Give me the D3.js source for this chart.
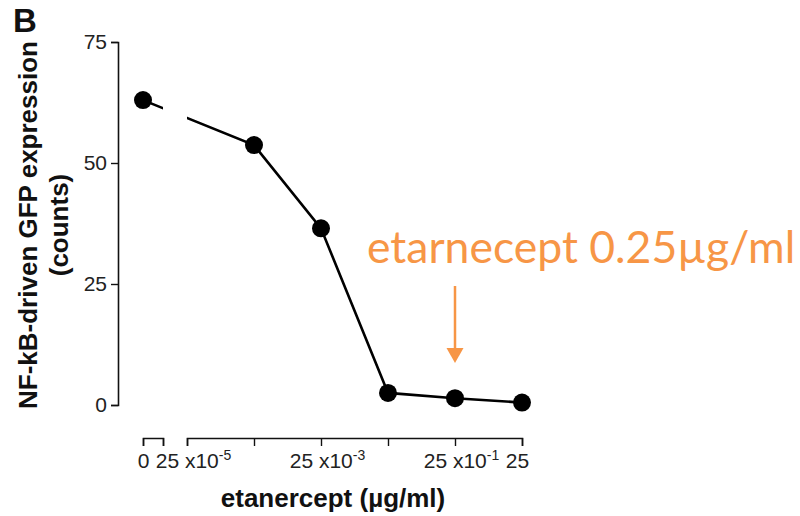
<!DOCTYPE html>
<html>
<head>
<meta charset="utf-8">
<script src="https://cdn.jsdelivr.net/npm/d3@7"></script>
<style>
  body { margin: 0; background: #fff; }
  svg { display: block; font-family: "Liberation Sans", Arial, sans-serif; }
</style>
</head>
<body>
<svg id="chart" width="800" height="516"></svg>
<script>
// data
var doses = [0, 25e-4, 25e-3, 25e-2, 25e-1, 25];   // ug/ml, 0 = control
var counts = [63, 53.7, 36.5, 2.5, 1.4, 0.5];
var yTicks = [0, 25, 50, 75];
var logTicks = [25e-5, 25e-4, 25e-3, 25e-2, 25e-1, 25];
var logLabels = [['25 x10', '-5'], null, ['25 x10', '-3'], null, ['25 x10', '-1'], ['25', '']];
var noteText = 'etarnecept 0.25\u00b5g/ml';
var noteDose = 25e-1;

var svg = d3.select('#chart');
var orange = '#f79646';

// scales
var y = d3.scaleLinear().domain([0, 75]).range([405, 42]);
var xLog = d3.scaleLog().domain([25e-5, 25]).range([187, 522]);
var xZero = d3.scaleLinear().domain([0, 1]).range([143, 163]);
function xPos(d) { return d === 0 ? xZero(0) : xLog(d); }

// y axis
var yAxis = svg.append('g').attr('transform', 'translate(118,0)')
    .call(d3.axisLeft(y).tickValues(yTicks).tickSize(7).tickPadding(4));
yAxis.select('.domain').attr('stroke', '#111').attr('stroke-width', 1.6);
yAxis.selectAll('.tick line').attr('stroke', '#111').attr('stroke-width', 1.4);
yAxis.selectAll('text').attr('font-size', 21).attr('fill', '#222').attr('font-family', null);

// x axis, broken in two pieces
var xAxisY = 438;
var xa0 = svg.append('g').attr('transform', 'translate(0,' + xAxisY + ')')
    .call(d3.axisBottom(xZero).tickValues([0, 1]).tickSizeOuter(0).tickSize(8)
      .tickFormat(function(d) { return d === 0 ? '0' : ''; }).tickPadding(7));
var xa1 = svg.append('g').attr('transform', 'translate(0,' + xAxisY + ')')
    .call(d3.axisBottom(xLog).tickValues(logTicks).tickSizeOuter(0).tickSize(8).tickFormat('').tickPadding(7));
[xa0, xa1].forEach(function(a) {
  a.select('.domain').attr('stroke', '#111').attr('stroke-width', 1.6);
  a.selectAll('.tick line').attr('stroke', '#111').attr('stroke-width', 1.4);
  a.selectAll('text').attr('font-size', 21).attr('fill', '#222').attr('font-family', null);
});

// labels with superscripts for the log part
xa1.selectAll('.tick').each(function(d, i) {
  var lab = logLabels[i];
  var t = d3.select(this).select('text');
  if (!lab) return;
  t.text(null);
  t.append('tspan').text(lab[0]);
  if (lab[1]) {
    t.append('tspan').attr('dy', -8).attr('font-size', 14).text(lab[1]);
    t.attr('dx', 6);
  } else {
    t.attr('dx', -5);
  }
});

// clip for the broken line between the zero point and the log range
var clip = svg.append('defs').append('clipPath').attr('id', 'brk');
clip.append('rect').attr('x', 0).attr('y', 0).attr('width', 163).attr('height', 516);
clip.append('rect').attr('x', 187).attr('y', 0).attr('width', 613).attr('height', 516);

var pts = doses.map(function(d, i) { return [xPos(d), y(counts[i])]; });
svg.append('path')
  .attr('d', d3.line()(pts))
  .attr('fill', 'none')
  .attr('stroke', '#000')
  .attr('stroke-width', 2.6)
  .attr('clip-path', 'url(#brk)');

svg.selectAll('circle.pt').data(pts).enter().append('circle')
  .attr('class', 'pt')
  .attr('cx', function(d) { return d[0]; })
  .attr('cy', function(d) { return d[1]; })
  .attr('r', 9)
  .attr('fill', '#000');

// axis titles
svg.append('text')
  .attr('transform', 'translate(37,225) rotate(-90)')
  .attr('text-anchor', 'middle')
  .attr('font-size', 26).attr('font-weight', 'bold').attr('fill', '#111')
  .text('NF-kB-driven GFP expression');
svg.append('text')
  .attr('transform', 'translate(68,225) rotate(-90)')
  .attr('text-anchor', 'middle')
  .attr('font-size', 26).attr('font-weight', 'bold').attr('fill', '#111')
  .text('(counts)');
svg.append('text')
  .attr('x', 333).attr('y', 507)
  .attr('text-anchor', 'middle')
  .attr('font-size', 26).attr('font-weight', 'bold').attr('fill', '#111')
  .text('etanercept (\u00b5g/ml)');

// panel letter
svg.append('text')
  .attr('x', 13).attr('y', 32)
  .attr('font-size', 33).attr('font-weight', 'bold').attr('fill', '#111')
  .text('B');

// orange annotation
var ax = xLog(noteDose);
svg.append('text')
  .attr('x', 367).attr('y', 263)
  .attr('font-family', 'Lato, "Open Sans", sans-serif')
  .attr('font-size', 44.5).attr('fill', orange)
  .text(noteText);
svg.append('line')
  .attr('x1', ax).attr('x2', ax).attr('y1', 286).attr('y2', 350)
  .attr('stroke', orange).attr('stroke-width', 2.5);
svg.append('path')
  .attr('d', d3.line()([[ax - 8.5, 348], [ax + 8.5, 348], [ax, 363]]) + 'Z')
  .attr('fill', orange);
</script>
</body>
</html>
